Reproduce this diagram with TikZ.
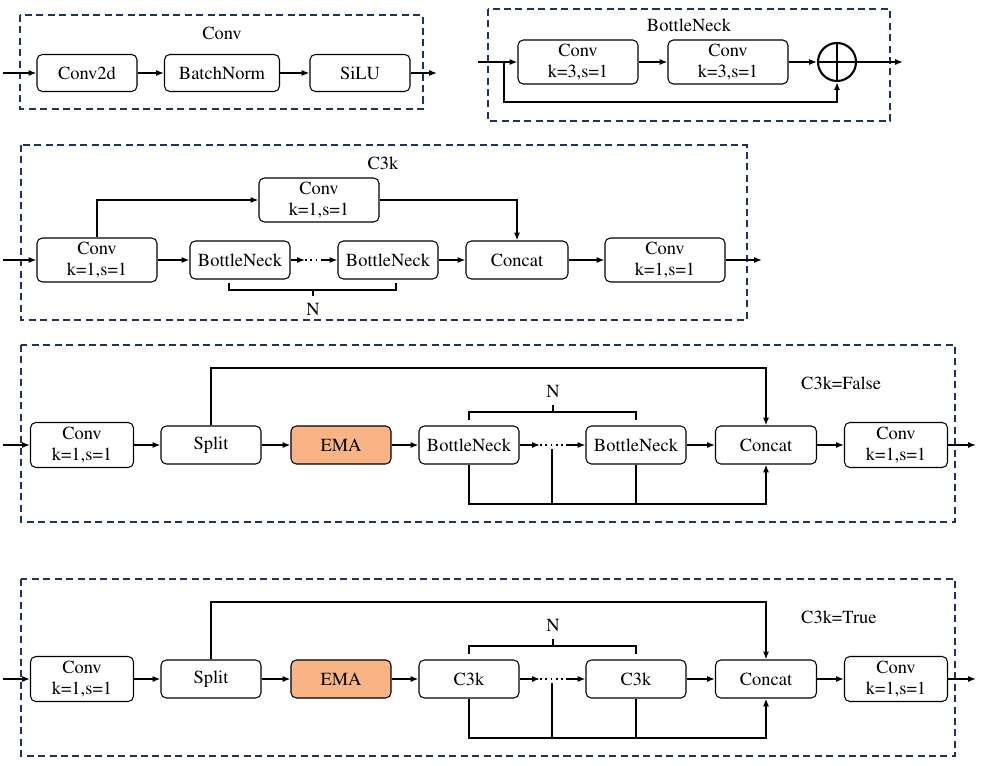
\documentclass[tikz,border=0pt]{standalone}
\usepackage[T1]{fontenc}
\usepackage{times}
\usetikzlibrary{arrows.meta,calc}
\definecolor{boxnavy}{RGB}{31,52,90}
\definecolor{emaorange}{RGB}{248,180,132}
\tikzset{
  blk/.style={draw, rounded corners=3pt, line width=0.6pt, minimum width=2cm, minimum height=0.76cm, align=center, inner sep=1pt, font=\fontsize{10.5}{12}\selectfont},
  wideblk/.style={blk, minimum width=2.4cm, minimum height=0.88cm},
  convblk/.style={blk, minimum width=2.06cm, minimum height=0.9cm},
  grp/.style={draw=boxnavy, line width=1pt, dash pattern=on 4pt off 2.5pt},
  ttl/.style={font=\fontsize{10.5}{12}\selectfont},
  flow/.style={-{Latex[length=4.5pt,width=3.5pt]}, line width=1pt},
  wire/.style={line width=1pt},
}

\begin{document}
\begin{tikzpicture}[x=0.02cm,y=-0.02cm]
\useasboundingbox (0,0) rectangle (986,766);

% Conv
\draw[grp] (20,15) rectangle (423,109);
\node[ttl] (tconv) at (222,33) {Conv};
\node[blk, minimum height=0.74cm] (c2d) at (87,73) {Conv2d};
\node[blk, minimum width=2.3cm, minimum height=0.74cm] (bn) at (222,73) {BatchNorm};
\node[blk, minimum height=0.74cm] (silu) at (360,73) {SiLU};
\coordinate (cin) at (3,73);
\coordinate (cout) at (437,73);
\draw[flow] (cin) -- (c2d);
\draw[flow] (c2d) -- (bn);
\draw[flow] (bn) -- (silu);
\draw[flow] (silu) -- (cout);

% BottleNeck
\draw[grp] (488,9) rectangle (890,121);
\node[ttl] (tbneck) at (689,25) {BottleNeck};
\node[wideblk] (bc1) at (578,62) {Conv\\k=3,s=1};
\node[wideblk] (bc2) at (728,62) {Conv\\k=3,s=1};
\node[draw, circle, line width=1.2pt, minimum size=0.76cm] (add) at (837,62) {};
\draw[line width=1.2pt] (add.north) -- (add.south) (add.west) -- (add.east);
\coordinate (bin) at (478,62);
\coordinate (bsplit) at (504,62);
\coordinate (bdown) at (504,102);
\coordinate (bout) at (903,62);
\draw[flow] (bin) -- (bc1);
\draw[flow] (bc1) -- (bc2);
\draw[flow] (bc2) -- (add);
\draw[flow] (add) -- (bout);
\draw[flow] (bsplit) -- (bdown) -| (add.south);

% C3k
\draw[grp] (21,145) rectangle (747,320);
\node[ttl] (tc3k) at (383,163) {C3k};
\node[wideblk] (kc0) at (97,260) {Conv\\k=1,s=1};
\node[wideblk] (kct) at (319,200) {Conv\\k=1,s=1};
\node[blk] (kb1) at (240,260) {BottleNeck};
\node[blk] (kb2) at (388,260) {BottleNeck};
\node[blk, minimum width=2.04cm] (kcat) at (517,260) {Concat};
\node[wideblk] (kc1) at (665,260) {Conv\\k=1,s=1};
\coordinate (kin) at (3,260);
\coordinate (kout) at (762,260);
\coordinate (kd1) at (305,260);
\coordinate (kd2) at (321,260);
\draw[flow] (kin) -- (kc0);
\draw[flow] (kc0) -- (kb1);
\draw[flow] (kb1) -- (kd1);
\draw[wire, dotted] (kd1) -- (kd2);
\draw[flow] (kd2) -- (kb2);
\draw[flow] (kb2) -- (kcat);
\draw[flow] (kcat) -- (kc1);
\draw[flow] (kc1) -- (kout);
\draw[flow] (kc0.north) |- (kct.west);
\draw[flow] (kct.east) -| (kcat.north);
\draw[wire] (229,283) -- (229,290) -- (396,290) -- (396,283) (313,290) -- (313,296);
\node[ttl] (kn) at (313,310) {N};

% C2f with EMA, C3k=False / C3k=True
\foreach \y/\m/\t/\s in {445/BottleNeck/False/f, 679/C3k/True/t}{
  \draw[grp] (21,\y-100) rectangle (955,\y+77);
  \node[ttl, anchor=west] (lbl\s) at (795,\y-62) {C3k=\t};
  \node[convblk] (cv\s) at (82,\y) {Conv\\k=1,s=1};
  \node[blk] (sp\s) at (211,\y) {Split};
  \node[blk, fill=emaorange] (ema\s) at (341,\y) {EMA};
  \node[blk] (ma\s) at (469,\y) {\m};
  \node[blk] (mb\s) at (636,\y) {\m};
  \node[blk, minimum width=2.02cm] (cat\s) at (766,\y) {Concat};
  \node[convblk] (co\s) at (896,\y) {Conv\\k=1,s=1};
  \coordinate (in\s) at (3,\y);
  \coordinate (out\s) at (976,\y);
  \coordinate (da\s) at (540,\y);
  \coordinate (db\s) at (566,\y);
  \coordinate (dm\s) at (552,\y+4);
  \coordinate (top\s) at (211,\y-77);
  \coordinate (bot\s) at (469,\y+59);
  \draw[flow] (in\s) -- (cv\s);
  \draw[flow] (cv\s) -- (sp\s);
  \draw[flow] (sp\s) -- (ema\s);
  \draw[flow] (ema\s) -- (ma\s);
  \draw[flow] (ma\s) -- (da\s);
  \draw[wire, dotted] (da\s) -- (db\s);
  \draw[flow] (db\s) -- (mb\s);
  \draw[flow] (mb\s) -- (cat\s);
  \draw[flow] (cat\s) -- (co\s);
  \draw[flow] (co\s) -- (out\s);
  \draw[flow] (sp\s.north) -- (top\s) -| (cat\s.north);
  \draw[flow] (ma\s.south) -- (bot\s) -| (cat\s.south);
  \draw[wire] (dm\s) -- (dm\s |- bot\s);
  \draw[wire] (mb\s.south) -- (mb\s.south |- bot\s);
  \draw[wire] (469,\y-25) -- (469,\y-33) -- (636,\y-33) -- (636,\y-25) (553,\y-33) -- (553,\y-40);
  \node[ttl] (n\s) at (553,\y-53) {N};
}
\end{tikzpicture}
\end{document}
